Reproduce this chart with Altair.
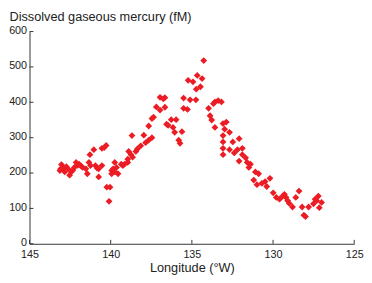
import altair as alt
import pandas as pd

# Longitude (deg W) and dissolved gaseous mercury (fM)
lon_a = [143.13, 143.08, 143.03, 142.93, 142.88, 142.83, 142.73, 142.63, 142.53, 142.43, 142.33, 142.24, 142.13, 142.03]
dgm_a = [207, 212, 224, 216, 210, 203, 218, 212, 194, 203, 208, 216, 230, 222]

lon_b = [141.94, 141.83, 141.73, 141.53, 141.44, 141.34, 141.28, 141.24, 141.04, 140.94, 140.84, 140.74, 140.74, 140.54, 140.54, 140.40, 140.28]
dgm_b = [225, 220, 216, 212, 198, 230, 252, 221, 266, 221, 214, 212, 189, 221, 270, 272, 278]

lon_c = [140.24, 140.04, 140.10, 139.94, 139.94, 139.85, 139.75, 139.75, 139.64, 139.55, 139.35, 139.25, 139.15]
dgm_c = [160, 160, 120, 198, 207, 212, 230, 203, 216, 198, 225, 221, 225]

lon_d = [138.95, 138.95, 138.89, 138.75, 138.69, 138.65, 138.45, 138.36, 138.15, 137.96, 137.85, 137.66, 137.66, 137.46, 137.46, 137.36]
dgm_d = [239, 230, 261, 252, 306, 245, 261, 268, 277, 307, 286, 333, 293, 300, 354, 358]

lon_e = [137.19, 136.96, 136.96, 136.76, 136.66, 136.66, 136.56, 136.46, 136.27, 136.16, 136.06, 135.97, 135.81, 135.73, 135.61, 135.51, 135.51]
dgm_e = [387, 414, 378, 410, 413, 386, 338, 335, 351, 329, 315, 351, 293, 284, 317, 412, 383]

lon_f = [135.27, 135.23, 135.11, 134.93, 134.75, 134.73, 134.67, 134.47, 134.37, 134.27]
dgm_f = [380, 462, 407, 458, 407, 437, 476, 444, 467, 518]

lon_g = [133.97, 133.88, 133.78, 133.67, 133.58, 133.58, 133.38, 133.18, 133.08, 132.88, 132.98, 133.08, 132.68, 133.08,
         133.08, 133.08, 132.48, 132.09, 132.68, 132.39, 132.19, 131.89, 132.09, 131.89, 131.69, 131.59, 131.49, 131.39]
dgm_g = [383, 362, 350, 396, 401, 329, 405, 401, 340, 344, 324, 306, 315, 288,
         270, 252, 288, 297, 266, 257, 266, 270, 234, 252, 243, 230, 216, 225]

lon_h = [131.09, 130.89, 131.19, 130.99, 130.69, 130.49, 130.39, 130.19, 129.99, 129.80, 129.60, 129.40, 129.30, 129.20, 129.10,
         129.00, 128.80, 128.60, 128.40, 128.21, 128.10, 128.00, 127.81, 127.51, 127.41, 127.31, 127.21, 127.01, 127.15]
dgm_h = [203, 198, 180, 167, 171, 176, 162, 185, 144, 131, 126, 135, 140, 131, 122,
         114, 104, 131, 149, 104, 81, 77, 104, 113, 126, 122, 135, 117, 102]

x_ticks = [145, 140, 135, 130, 125]
y_ticks = [0, 100, 200, 300, 400, 500, 600]

lon = lon_a + lon_b + lon_c + lon_d + lon_e + lon_f + lon_g + lon_h
dgm = dgm_a + dgm_b + dgm_c + dgm_d + dgm_e + dgm_f + dgm_g + dgm_h
df = pd.DataFrame({"lon": lon, "dgm": dgm})

W, H = 332, 217
FONT = "Liberation Sans"
AX = "#333333"
TXT = "#222222"
RED = "#ec1c24"

xscale = alt.Scale(domain=[125, 145], reverse=True, nice=False, zero=False)
yscale = alt.Scale(domain=[0, 600], nice=False, zero=True)

x_axis = alt.Axis(values=x_ticks, title="Longitude (°W)", titleY=28,
                  titleBaseline="alphabetic", labelPadding=5,
                  labelFlush=False, labelOverlap=False)
y_axis = alt.Axis(values=y_ticks, title="Dissolved gaseous mercury (fM)",
                  titleAngle=0, titleAlign="left", titleBaseline="alphabetic",
                  titleX=-21, titleY=-11, labelPadding=3, labelOffset=-1,
                  labelFlush=False, labelOverlap=False)

points = alt.Chart(df).mark_point(
    shape="diamond", filled=True, size=48, color=RED, opacity=1
).encode(
    x=alt.X("lon:Q", scale=xscale, axis=x_axis, title="Longitude (°W)"),
    y=alt.Y("dgm:Q", scale=yscale, axis=y_axis, title="Dissolved gaseous mercury (fM)"),
)

xt = alt.Chart(pd.DataFrame({"t": x_ticks})).mark_rule(color=AX, strokeWidth=1).encode(
    x=alt.X("t:Q", scale=xscale, axis=x_axis, title="Longitude (°W)"),
    y=alt.value(H),
    y2=alt.value(H - 4),
)
yt = alt.Chart(pd.DataFrame({"t": y_ticks})).mark_rule(color=AX, strokeWidth=1).encode(
    y=alt.Y("t:Q", scale=yscale, axis=y_axis, title="Dissolved gaseous mercury (fM)"),
    x=alt.value(0),
    x2=alt.value(4),
)

chart = alt.layer(points, xt, yt).properties(
    width=W, height=H,
    autosize=alt.AutoSizeParams(type="none"),
    padding={"left": 22, "top": 21, "right": 10, "bottom": 37},
).configure_view(stroke=None).configure_axis(
    grid=False, ticks=False, domainColor=AX, domainWidth=1,
    labelFont=FONT, labelFontSize=11, labelColor=TXT,
    titleFont=FONT, titleFontSize=13, titleFontWeight="normal", titleColor=TXT,
)

chart.save("out.html", embed_options={"renderer": "svg", "actions": False})
